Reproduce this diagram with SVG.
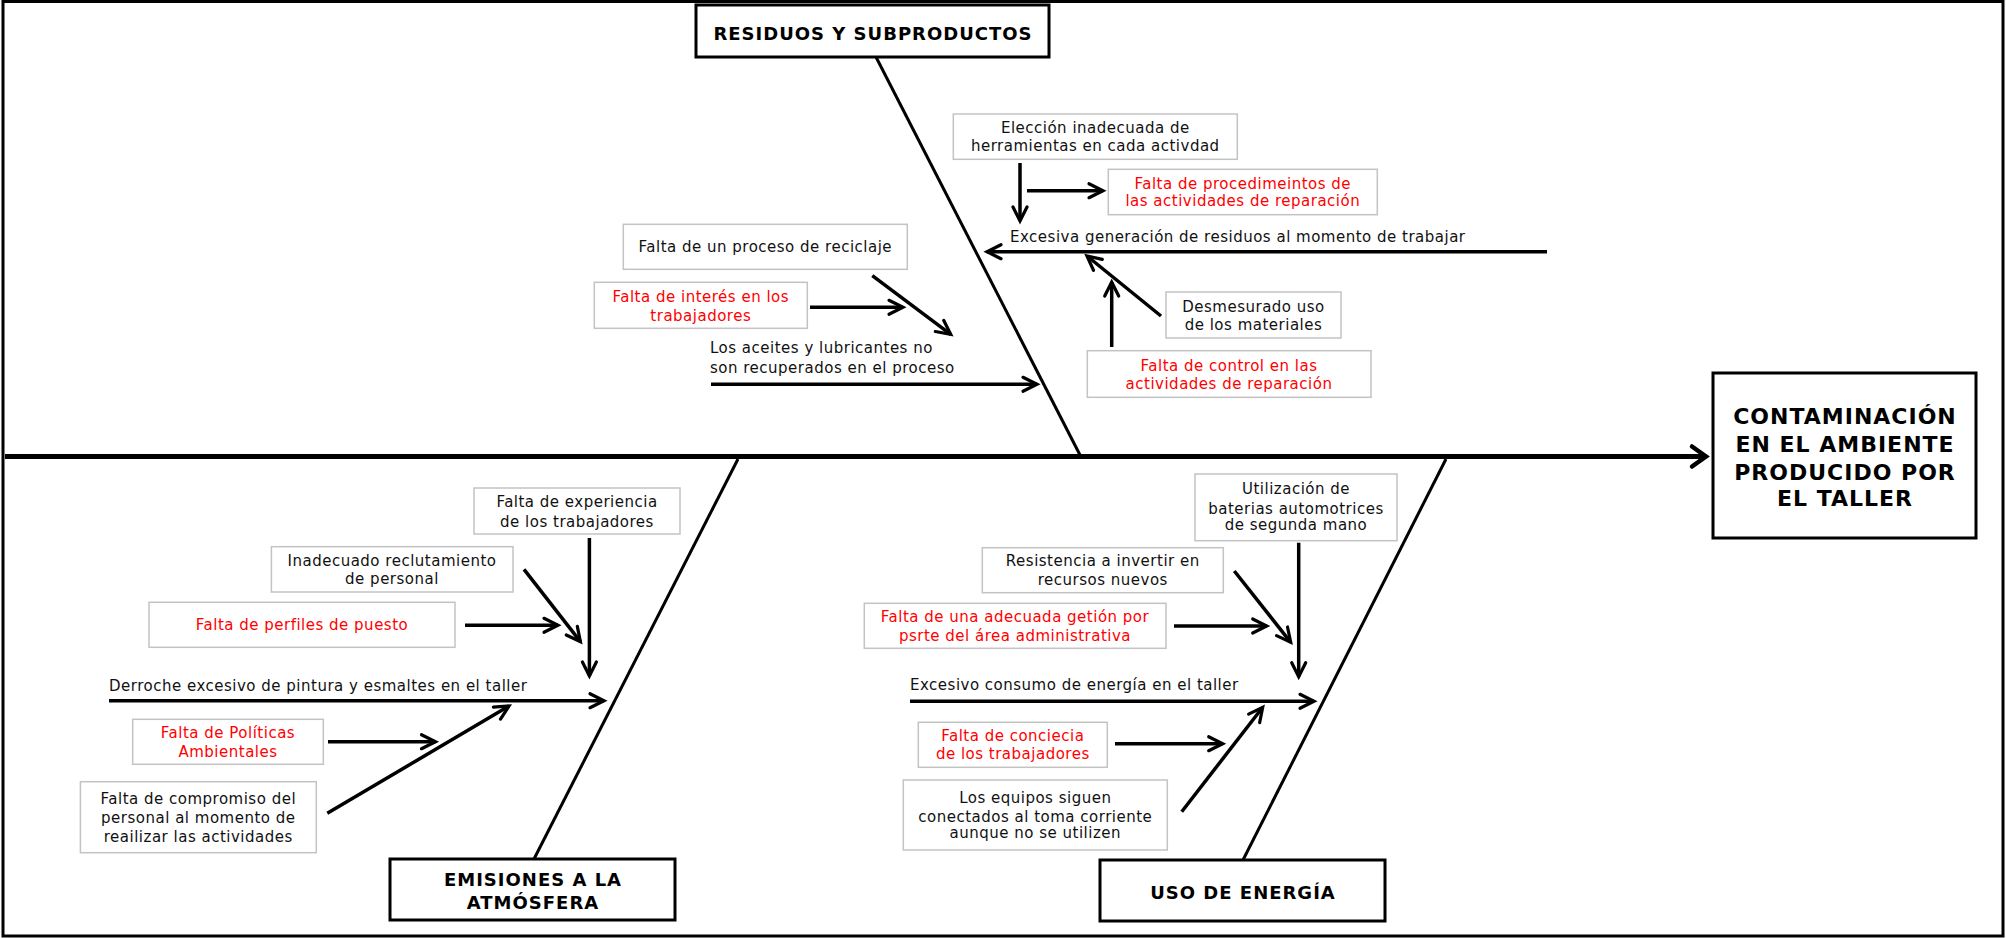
<svg xmlns="http://www.w3.org/2000/svg" width="2006" height="938" viewBox="0 0 2006 938">
  <style>
    .frame { fill: #ffffff; stroke: #000000; stroke-width: 3; }
    .cat { fill: #ffffff; stroke: #000000; stroke-width: 3; }
    .cause { fill: #ffffff; stroke: #c3c3c3; stroke-width: 1.5; }
    .t { font-family: "DejaVu Sans", "Liberation Sans", sans-serif; font-size: 15px; letter-spacing: 0.5px; fill: #111111; }
    .c { text-anchor: middle; }
    .red { fill: #ff0000; }
    .tb { font-family: "DejaVu Sans", "Liberation Sans", sans-serif; font-weight: bold; font-size: 18px; letter-spacing: 1px; fill: #000000; text-anchor: middle; }
    .th { font-size: 22px; }
    .bone { stroke: #000000; stroke-width: 3; fill: none; }
    .arr { stroke: #000000; stroke-width: 3.5; fill: none; marker-end: url(#ah); }
    .spine { stroke: #000000; stroke-width: 5; fill: none; marker-end: url(#ahBig); }
  </style>
  <defs>
    <marker id="ah" markerUnits="userSpaceOnUse" markerWidth="24" markerHeight="24" refX="20" refY="12" orient="auto" overflow="visible">
      <path d="M6,5 L20,12 L6,19" fill="none" stroke="#000000" stroke-width="3.2" stroke-linecap="round"/>
    </marker>
    <marker id="ahBig" markerUnits="userSpaceOnUse" markerWidth="30" markerHeight="30" refX="24" refY="15" orient="auto" overflow="visible">
      <path d="M10,5 L24,15 L10,25" fill="none" stroke="#000000" stroke-width="4.5" stroke-linecap="round"/>
    </marker>
  </defs>

  <!-- outer frame -->
  <rect class="frame" x="3" y="1.5" width="2000" height="934.5"/>

  <!-- connectors: spine, category bones and cause arrows -->
  <g id="connectors">
    <line class="spine" x1="5" y1="456.5" x2="1706" y2="456.5"/>
    <line class="bone" x1="876" y1="57" x2="1080" y2="455"/>
    <line class="bone" x1="738" y1="459" x2="534" y2="859"/>
    <line class="bone" x1="1446" y1="459" x2="1243" y2="860"/>

    <!-- residuos y subproductos -->
    <line class="arr" x1="1547" y1="251.7" x2="987" y2="251.7"/>
    <line class="arr" x1="1020" y1="163" x2="1020" y2="221"/>
    <line class="arr" x1="1027" y1="190.7" x2="1103" y2="190.7"/>
    <line class="arr" x1="1161" y1="316" x2="1087" y2="256"/>
    <line class="arr" x1="1111.7" y1="347" x2="1111.7" y2="282"/>
    <line class="arr" x1="711" y1="384.3" x2="1037" y2="384.3"/>
    <line class="arr" x1="810" y1="307.3" x2="903" y2="307.3"/>
    <line class="arr" x1="872.3" y1="275.7" x2="950.7" y2="334.3"/>

    <!-- emisiones a la atmosfera -->
    <line class="arr" x1="109" y1="700.7" x2="604" y2="700.7"/>
    <line class="arr" x1="589.4" y1="538" x2="589.4" y2="676"/>
    <line class="arr" x1="524" y1="569.3" x2="580.4" y2="641.7"/>
    <line class="arr" x1="465" y1="625.3" x2="558" y2="625.3"/>
    <line class="arr" x1="328" y1="741.7" x2="435.5" y2="741.7"/>
    <line class="arr" x1="327.3" y1="813.3" x2="509" y2="706"/>

    <!-- uso de energia -->
    <line class="arr" x1="910" y1="701.3" x2="1314" y2="701.3"/>
    <line class="arr" x1="1298.7" y1="542.7" x2="1298.7" y2="676.7"/>
    <line class="arr" x1="1234.3" y1="571" x2="1290.7" y2="642.3"/>
    <line class="arr" x1="1174" y1="626" x2="1266.7" y2="626"/>
    <line class="arr" x1="1115" y1="743.7" x2="1222.7" y2="743.7"/>
    <line class="arr" x1="1181.7" y1="811.7" x2="1262.7" y2="707.3"/>
  </g>

  <!-- effect -->
  <g id="efecto">
    <rect class="cat" x="1713" y="373" width="263" height="165"/>
    <text class="tb th" x="1845" y="424">CONTAMINACIÓN</text>
    <text class="tb th" x="1845" y="452">EN EL AMBIENTE</text>
    <text class="tb th" x="1845" y="480">PRODUCIDO POR</text>
    <text class="tb th" x="1845" y="506">EL TALLER</text>
  </g>

  <!-- categories -->
  <g id="cat-residuos">
    <rect class="cat" x="696" y="5" width="353" height="52"/>
    <text class="tb" x="873" y="39.5">RESIDUOS Y SUBPRODUCTOS</text>
  </g>
  <g id="cat-emisiones">
    <rect class="cat" x="390" y="859" width="285" height="61"/>
    <text class="tb" x="533" y="885.5">EMISIONES A LA</text>
    <text class="tb" x="533" y="908.5">ATMÓSFERA</text>
  </g>
  <g id="cat-energia">
    <rect class="cat" x="1100" y="860" width="285" height="61"/>
    <text class="tb" x="1243" y="898.5">USO DE ENERGÍA</text>
  </g>

  <!-- causes: residuos y subproductos -->
  <g id="eleccion">
    <rect class="cause" x="953.3" y="114" width="284" height="45.3"/>
    <text class="t c" x="1095.3" y="132.5">Elección inadecuada de</text>
    <text class="t c" x="1095.3" y="151">herramientas en cada activdad</text>
  </g>
  <g id="procedimientos">
    <rect class="cause" x="1108.3" y="169.3" width="269" height="45.4"/>
    <text class="t c red" x="1242.8" y="188.5">Falta de procedimeintos de</text>
    <text class="t c red" x="1242.8" y="206">las actividades de reparación</text>
  </g>
  <g id="excesiva-generacion">
    <text class="t" x="1010" y="241.7">Excesiva generación de residuos al momento de trabajar</text>
  </g>
  <g id="desmesurado">
    <rect class="cause" x="1166" y="292" width="175" height="46"/>
    <text class="t c" x="1253.5" y="311.7">Desmesurado uso</text>
    <text class="t c" x="1253.5" y="330.3">de los materiales</text>
  </g>
  <g id="falta-control">
    <rect class="cause" x="1087.3" y="350.7" width="283.7" height="46.6"/>
    <text class="t c red" x="1229" y="370.7">Falta de control en las</text>
    <text class="t c red" x="1229" y="389">actividades de reparación</text>
  </g>
  <g id="reciclaje">
    <rect class="cause" x="623.3" y="224.3" width="284" height="45"/>
    <text class="t c" x="765.3" y="252.3">Falta de un proceso de reciclaje</text>
  </g>
  <g id="interes">
    <rect class="cause" x="594.3" y="282.3" width="213" height="46"/>
    <text class="t c red" x="700.8" y="301.7">Falta de interés en los</text>
    <text class="t c red" x="700.8" y="320.7">trabajadores</text>
  </g>
  <g id="aceites">
    <text class="t" x="710" y="353.3">Los aceites y lubricantes no</text>
    <text class="t" x="710" y="372.7">son recuperados en el proceso</text>
  </g>

  <!-- causes: emisiones a la atmosfera -->
  <g id="experiencia">
    <rect class="cause" x="474" y="488" width="206" height="46"/>
    <text class="t c" x="577" y="507.3">Falta de experiencia</text>
    <text class="t c" x="577" y="526.7">de los trabajadores</text>
  </g>
  <g id="reclutamiento">
    <rect class="cause" x="271.4" y="546.7" width="241.6" height="45.3"/>
    <text class="t c" x="392" y="565.7">Inadecuado reclutamiento</text>
    <text class="t c" x="392" y="584.3">de personal</text>
  </g>
  <g id="perfiles">
    <rect class="cause" x="149" y="602.3" width="306" height="45"/>
    <text class="t c red" x="302" y="630.3">Falta de perfiles de puesto</text>
  </g>
  <g id="derroche">
    <text class="t" x="109" y="690.7">Derroche excesivo de pintura y esmaltes en el taller</text>
  </g>
  <g id="politicas">
    <rect class="cause" x="132.7" y="719.3" width="190.6" height="45"/>
    <text class="t c red" x="228" y="738.3">Falta de Políticas</text>
    <text class="t c red" x="228" y="757.3">Ambientales</text>
  </g>
  <g id="compromiso">
    <rect class="cause" x="80.4" y="781.7" width="235.9" height="71"/>
    <text class="t c" x="198.3" y="804.3">Falta de compromiso del</text>
    <text class="t c" x="198.3" y="823.3">personal al momento de</text>
    <text class="t c" x="198.3" y="841.7">reailizar las actividades</text>
  </g>

  <!-- causes: uso de energia -->
  <g id="baterias">
    <rect class="cause" x="1195" y="474" width="202" height="66.7"/>
    <text class="t c" x="1296" y="494.3">Utilización de</text>
    <text class="t c" x="1296" y="513.7">baterias automotrices</text>
    <text class="t c" x="1296" y="530">de segunda mano</text>
  </g>
  <g id="resistencia">
    <rect class="cause" x="982.3" y="547.7" width="241" height="45"/>
    <text class="t c" x="1102.8" y="566">Resistencia a invertir en</text>
    <text class="t c" x="1102.8" y="585.3">recursos nuevos</text>
  </g>
  <g id="gestion">
    <rect class="cause" x="864.3" y="603.3" width="301.7" height="45"/>
    <text class="t c red" x="1015" y="622.3">Falta de una adecuada getión por</text>
    <text class="t c red" x="1015" y="641">psrte del área administrativa</text>
  </g>
  <g id="consumo">
    <text class="t" x="910" y="690.3">Excesivo consumo de energía en el taller</text>
  </g>
  <g id="conciencia">
    <rect class="cause" x="918.3" y="722.3" width="189" height="45"/>
    <text class="t c red" x="1012.8" y="741.3">Falta de conciecia</text>
    <text class="t c red" x="1012.8" y="759.3">de los trabajadores</text>
  </g>
  <g id="equipos">
    <rect class="cause" x="903.3" y="780" width="264" height="70"/>
    <text class="t c" x="1035.3" y="802.7">Los equipos siguen</text>
    <text class="t c" x="1035.3" y="821.7">conectados al toma corriente</text>
    <text class="t c" x="1035.3" y="838.3">aunque no se utilizen</text>
  </g>
</svg>
